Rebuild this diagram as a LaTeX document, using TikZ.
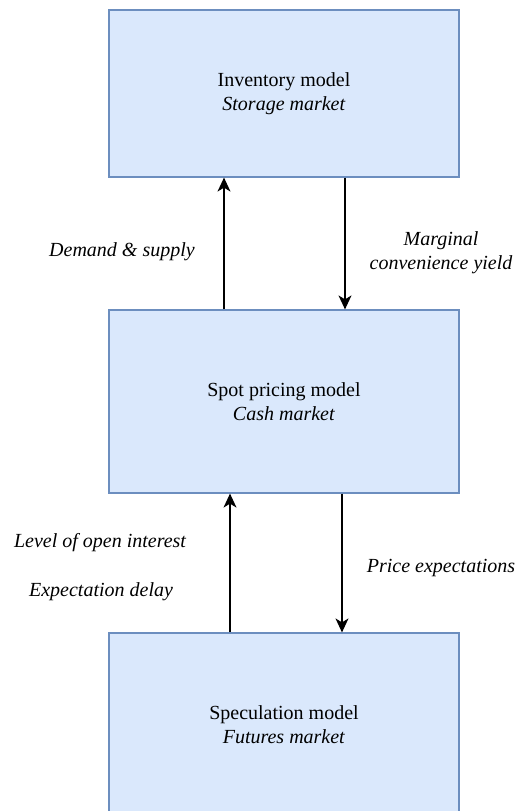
\documentclass[tikz,border=0pt]{standalone}
\usepackage{fontspec}
\setmainfont{Liberation Serif}
\usetikzlibrary{arrows.meta}
\definecolor{boxfill}{HTML}{DAE8FC}
\definecolor{boxline}{HTML}{6C8EBF}
\tikzset{
  model/.style={draw=boxline, fill=boxfill, line width=1.2pt, minimum width=350pt,
    inner sep=0pt, align=center, font=\fontsize{20}{24}\selectfont},
  flow/.style={draw=black, line width=1.3pt, -{Stealth[length=14pt, width=13pt, inset=4pt]}},
  lbl/.style={align=center, font=\fontsize{20}{24}\selectfont\itshape, inner sep=0pt}
}
\begin{document}
\begin{tikzpicture}[x=1pt, y=-1pt]
  \useasboundingbox (0,0) rectangle (515,811);
  \clip (0,0) rectangle (515,811);

  % the three sub-models
  \node[model, minimum height=167pt] (inv)  at (284,93.5)  {Inventory model\\\textit{Storage market}};
  \node[model, minimum height=183pt] (spot) at (284,401.5) {Spot pricing model\\\textit{Cash market}};
  \node[model, minimum height=184pt] (spec) at (284,725)   {Speculation model\\\textit{Futures market}};

  % links between inventory and spot models
  \draw[flow] ([xshift=-60pt]spot.north) -- ([xshift=-60pt]inv.south);
  \draw[flow] ([xshift=61pt]inv.south) -- ([xshift=61pt]spot.north);

  % links between spot and speculation models
  \draw[flow] ([xshift=-54pt]spec.north) -- ([xshift=-54pt]spot.south);
  \draw[flow] ([xshift=58pt]spot.south) -- ([xshift=58pt]spec.north);

  % link labels
  \node[lbl] (ds)  at (122,252) {Demand \& supply};
  \node[lbl] (mcy) at (441,252.5) {Marginal\\convenience yield};
  \node[lbl] (loi) at (100,543) {Level of open interest};
  \node[lbl] (ed)  at (101,592) {Expectation delay};
  \node[lbl] (pe)  at (441,568) {Price expectations};
\end{tikzpicture}
\end{document}
